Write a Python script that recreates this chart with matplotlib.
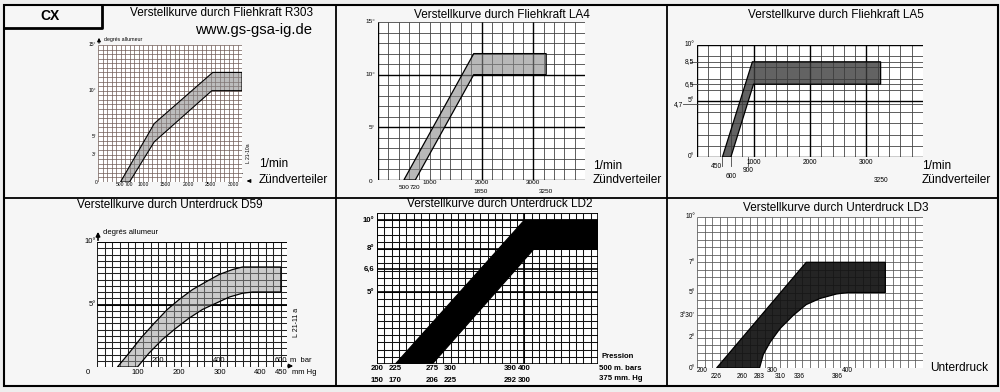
import numpy as np
import matplotlib
matplotlib.use('Agg')
import matplotlib.pyplot as plt

plt.rcParams['font.family'] = ['Liberation Sans', 'DejaVu Sans']

# --- Fliehkraft R303 (1/min, Grad)
r303_upper_x = [500, 1250, 2550, 3200]
r303_upper_y = [0, 6.4, 12, 12]
r303_lower_x = [700, 1250, 2530, 3200]
r303_lower_y = [0, 4.4, 10, 10]
r303_xticks = [500, 700, 1000, 1500, 2000, 2500, 3000]
r303_yticks = [15, 10, 5, 3]

# --- Fliehkraft LA4
la4_upper_x = [500, 1850, 3250]
la4_upper_y = [0, 12, 12]
la4_lower_x = [720, 1850, 3250]
la4_lower_y = [0, 10, 10]
la4_yticks = [15, 10, 5]

# --- Fliehkraft LA5
la5_upper_x = [450, 980, 3250]
la5_upper_y = [0, 8.5, 8.5]
la5_lower_x = [600, 1000, 3250]
la5_lower_y = [0, 6.5, 6.5]
la5_ylabels = [(10, '10°'), (8.5, '8,5'), (6.5, '6,5'), (5, '5°'), (4.7, '4,7'), (0, '0°')]

# --- Unterdruck D59 (mm Hg, Grad)
d59_upper_x = [50, 78, 107, 140, 172, 201, 234, 266, 299, 332, 356, 450]
d59_upper_y = [0, 1.1, 2.3, 3.5, 4.6, 5.4, 6.2, 6.8, 7.4, 7.8, 8.0, 8.0]
d59_lower_x = [99, 127, 160, 193, 225, 258, 291, 324, 356, 381, 450]
d59_lower_y = [0, 1.1, 2.2, 3.1, 3.9, 4.6, 5.1, 5.6, 5.9, 6.0, 6.0]
d59_mmhg = [100, 200, 300, 400, 450]
d59_mbar = [200, 400, 600]

# --- Unterdruck LD2 (mbar, Grad)
ld2_upper_x = [225, 400, 500]
ld2_upper_y = [0, 10, 10]
ld2_lower_x = [275, 413, 500]
ld2_lower_y = [0, 8, 8]
ld2_mbar = [200, 225, 275, 300, 390, 400]
ld2_mmhg = ['150', '170', '206', '225', '292', '300']
ld2_ylabels = [(10, '10°'), (8, '8°'), (6.6, '6,6'), (5, '5°')]

# --- Unterdruck LD3 (mbar, Grad)
ld3_upper_x = [226, 345, 450]
ld3_upper_y = [0, 7, 7]
ld3_lower_x = [283, 288, 297, 310, 328, 345, 363, 385, 400, 450]
ld3_lower_y = [0, 0.9, 1.7, 2.6, 3.5, 4.2, 4.6, 4.9, 5, 5]
ld3_row1 = [200, 300, 400]
ld3_row2 = [226, 260, 283, 310, 336, 386]
ld3_ylabels = [(10, '10°'), (7, '7°'), (5, '5°'), (3.5, "3°30'"), (2, '2°'), (0, '0°')]

W, H = 1000, 392
fig = plt.figure(figsize=(10, 3.92), dpi=100, facecolor='#eeeeee')
bg = fig.add_axes([0, 0, 1, 1])
bg.set_xlim(0, W)
bg.set_ylim(H, 0)
bg.axis('off')
bg.add_patch(plt.Rectangle((4, 5), 994, 381, facecolor='#f6f6f6', edgecolor='k', lw=1.5))
bg.plot([336, 336], [5, 386], 'k', lw=1.3)
bg.plot([667, 667], [5, 386], 'k', lw=1.3)
bg.plot([4, 998], [198, 198], 'k', lw=1.3)
bg.plot([5, 102, 102], [28, 28, 5], 'k', lw=2)
bg.text(50, 16, 'CX', fontsize=10, fontweight='bold', ha='center', va='center')


def px_axes(l, t, r, b):
    ax = fig.add_axes([l / W, 1 - b / H, (r - l) / W, (b - t) / H])
    ax.set_xticks([])
    ax.set_yticks([])
    for s in ax.spines.values():
        s.set_visible(False)
    ax.set_facecolor('white')
    return ax


def grid(ax, xs, ys, color, lw, thick_x=(), thick_y=(), tlw=1.2):
    ax.vlines(xs, 0, 1, transform=ax.get_xaxis_transform(), colors=color, lw=lw, zorder=1)
    ax.hlines(ys, 0, 1, transform=ax.get_yaxis_transform(), colors=color, lw=lw, zorder=1)
    if len(thick_x):
        ax.vlines(thick_x, 0, 1, transform=ax.get_xaxis_transform(), colors='k', lw=tlw, zorder=1)
    if len(thick_y):
        ax.hlines(thick_y, 0, 1, transform=ax.get_yaxis_transform(), colors='k', lw=tlw, zorder=1)


def band(ax, ux, uy, lx, ly, color, alpha, lw=0.9):
    px = np.r_[ux, lx[::-1]]
    py = np.r_[uy, ly[::-1]]
    ax.fill(px, py, facecolor=color, alpha=alpha, edgecolor='none', zorder=2)
    ax.fill(px, py, facecolor='none', edgecolor='k', lw=lw, zorder=3)


def xlab(ax, v, s, dy, size, **kw):
    ax.annotate(s, xy=(v, 0), xycoords=('data', 'axes fraction'), xytext=(0, -dy),
                textcoords='offset pixels', ha=kw.pop('ha', 'center'), va='center',
                fontsize=size, annotation_clip=False, **kw)


def ylab(ax, v, s, dx, size, **kw):
    ax.annotate(s, xy=(0, v), xycoords=('axes fraction', 'data'), xytext=(-dx, 0),
                textcoords='offset pixels', ha='right', va='center',
                fontsize=size, annotation_clip=False, **kw)


title_kw = dict(fontsize=8.5, ha='center', va='center')
side_fs = 8.6

# ---------------- R303
bg.text(222, 13, 'Verstellkurve durch Fliehkraft R303', **title_kw)
bg.text(254, 30, 'www.gs-gsa-ig.de', fontsize=10.7, ha='center', va='center')
ax = px_axes(98, 45, 242, 182)
ax.set_xlim(0, 3200)
ax.set_ylim(0, 15)
grid(ax, np.arange(0, 3201, 100), np.arange(0, 15.01, 0.5), '#6e5a55', 0.5)
band(ax, r303_upper_x, r303_upper_y, r303_lower_x, r303_lower_y, '#888888', 0.55, 0.8)
for v in r303_xticks:
    xlab(ax, v, str(v), 3, 3.6)
xlab(ax, 0, '0', 1, 3.6, ha='right')
for v in r303_yticks:
    ylab(ax, v, f'{v}°', 2, 3.6)
bg.annotate('', xy=(99, 35), xytext=(99, 46), arrowprops=dict(arrowstyle='-|>', lw=0.8, color='k',
            mutation_scale=5))
bg.text(104, 39, 'degrés allumeur', fontsize=3.8, va='center')
bg.text(248, 153, 'L 21-10a', fontsize=3.6, rotation=90, ha='center', va='center')
bg.text(230, 168, 'N tr/mn', fontsize=3.6, ha='center', va='center')
bg.text(230, 177, 'allumeur', fontsize=3.6, ha='center', va='center')
bg.plot([217, 242], [172.5, 172.5], 'k', lw=0.5)
bg.annotate('', xy=(244, 181), xytext=(252, 181), arrowprops=dict(arrowstyle='-|>', lw=0.8, color='k',
            mutation_scale=5))
bg.text(259, 164, '1/min', fontsize=side_fs, va='center')
bg.text(259, 180, 'Zündverteiler', fontsize=side_fs, va='center')

# ---------------- LA4
bg.text(502, 15, 'Verstellkurve durch Fliehkraft LA4', **title_kw)
ax = px_axes(378, 22, 585, 180)
ax.set_xlim(0, 4000)
ax.set_ylim(0, 15)
grid(ax, np.arange(0, 4001, 200), np.arange(0, 15.01, 1), '#444444', 0.6,
     thick_x=[0, 2000, 3000], thick_y=[0, 5, 10], tlw=1.0)
band(ax, la4_upper_x, la4_upper_y, la4_lower_x, la4_lower_y, '#8a8a8a', 0.6)
for v in [1000, 2000, 3000]:
    xlab(ax, v, str(v), 3, 4.6)
for v in [500, 720]:
    xlab(ax, v, str(v), 8, 4.6)
xlab(ax, 1850, '1850', 12, 4.6, ha='left')
xlab(ax, 3250, '3250', 12, 4.6)
bg.text(371, 181, '0', fontsize=4.6, ha='center', va='center')
for v in la4_yticks:
    ylab(ax, v, f'{v}°', 3, 4.6)
bg.text(593, 166, '1/min', fontsize=side_fs, va='center')
bg.text(593, 180, 'Zündverteiler', fontsize=side_fs, va='center')

# ---------------- LA5
bg.text(836, 15, 'Verstellkurve durch Fliehkraft LA5', **title_kw)
ax = px_axes(697, 45, 923, 157)
ax.set_xlim(0, 4000)
ax.set_ylim(0, 10)
grid(ax, np.arange(0, 4001, 200), np.r_[np.arange(0, 10.01, 1), 8.5, 6.5, 4.7], '#444444', 0.6,
     thick_x=[0, 1000, 2000, 3000], thick_y=[0, 5, 10], tlw=1.0)
band(ax, la5_upper_x, la5_upper_y, la5_lower_x, la5_lower_y, '#3c3c3c', 0.8)
for v, s in la5_ylabels:
    dx = 14 if s == '4,7' else 3
    ylab(ax, v, s, dx, 4.8)
for v in [8.5, 6.5, 4.7]:
    ax.plot([-0.06 if v == 4.7 else -0.03, 0], [v, v], transform=ax.get_yaxis_transform(), color='#444444',
            lw=0.6, clip_on=False)
for v in [1000, 2000, 3000]:
    xlab(ax, v, str(v), 6, 4.8)
xlab(ax, 450, '450', 10, 4.8, ha='right')
xlab(ax, 600, '600', 20, 4.8)
xlab(ax, 900, '900', 14, 4.8)
xlab(ax, 3250, '3250', 23, 4.8)
for v in [450, 600, 900]:
    ax.plot([v, v], [0, -0.08], transform=ax.get_xaxis_transform(), color='#444444', lw=0.6, clip_on=False)
bg.text(922, 166, '1/min', fontsize=side_fs, va='center')
bg.text(922, 180, 'Zündverteiler', fontsize=side_fs, va='center')

# ---------------- D59
bg.text(170, 205, 'Verstellkurve durch Unterdruck D59', **title_kw)
ax = px_axes(97, 242, 287, 367)
ax.set_xlim(0, 465)
ax.set_ylim(0, 10)
grid(ax, np.arange(0, 465, 18.75), np.arange(0, 10.01, 0.5), '#222222', 0.75,
     thick_y=[5, 10], tlw=1.3)
band(ax, d59_upper_x, d59_upper_y, d59_lower_x, d59_lower_y, '#999999', 0.5)
for v in d59_mmhg:
    xlab(ax, v, str(v), 6, 5.5)
bg.text(292, 373, 'mm Hg', fontsize=5.5, va='center')
bg.text(88, 373, '0', fontsize=5.5, ha='center', va='center')
for v in d59_mbar:
    xlab(ax, v * 0.75, str(v), -7, 5.5)
bg.text(290, 360, 'm  bar', fontsize=5.5, va='center')
ylab(ax, 10, '10°', 1, 5.5)
ylab(ax, 5, '5°', 1, 5.5)
bg.annotate('', xy=(98, 229), xytext=(98, 243), arrowprops=dict(arrowstyle='-|>', lw=1.2, color='k',
            mutation_scale=6))
bg.annotate('', xy=(296, 366), xytext=(285, 366), arrowprops=dict(arrowstyle='-|>', lw=1.0, color='k',
            mutation_scale=6))
bg.text(103, 232, 'degrés allumeur', fontsize=5.5, va='center')
bg.text(296, 322, 'L 21-11 a', fontsize=5, rotation=90, ha='center', va='center')

# ---------------- LD2
bg.text(500, 204, 'Verstellkurve durch Unterdruck LD2', **title_kw)
ax = px_axes(377, 213, 598, 364)
ax.set_xlim(200, 500)
ax.set_ylim(0, 10.5)
grid(ax, np.arange(200, 501, 10), np.arange(0, 10.51, 0.5), '#111111', 0.75,
     thick_x=[200, 400, 500], thick_y=[0, 5, 6.6, 8, 10], tlw=1.2)
band(ax, ld2_upper_x, ld2_upper_y, ld2_lower_x, ld2_lower_y, '#000000', 1.0)
for v, s2 in zip(ld2_mbar, ld2_mmhg):
    ha = 'right' if v == 390 else 'center'
    xlab(ax, v, str(v), 5, 5.6, ha=ha, fontweight='bold')
    xlab(ax, v, s2, 16, 5.6, ha=ha, fontweight='bold')
for v, s in ld2_ylabels:
    ylab(ax, v, s, 3, 5.6, fontweight='bold')
bg.text(601, 357, 'Pression', fontsize=5.6, fontweight='bold', va='center')
bg.text(599, 368, '500 m. bars', fontsize=5.6, fontweight='bold', va='center')
bg.text(599, 379, '375 mm. Hg', fontsize=5.6, fontweight='bold', va='center')

# ---------------- LD3
bg.text(836, 208, 'Verstellkurve durch Unterdruck LD3', **title_kw)
ax = px_axes(697, 217, 923, 368)
ax.set_xlim(200, 500)
ax.set_ylim(0, 10)
grid(ax, np.arange(200, 501, 10), np.arange(0, 10.01, 0.5), '#555555', 0.55)
band(ax, ld3_upper_x, ld3_upper_y, ld3_lower_x, ld3_lower_y, '#111111', 0.92)
for v in ld3_row1:
    xlab(ax, v, str(v), 2, 4.8, ha='left' if v == 200 else 'center')
for v in ld3_row2:
    xlab(ax, v, str(v), 8, 4.8)
for v, s in ld3_ylabels:
    ylab(ax, v, s, 2, 4.8)
bg.text(930, 368, 'Unterdruck', fontsize=8.6, va='center')

fig.savefig('out.png', dpi=100, facecolor=fig.get_facecolor())
